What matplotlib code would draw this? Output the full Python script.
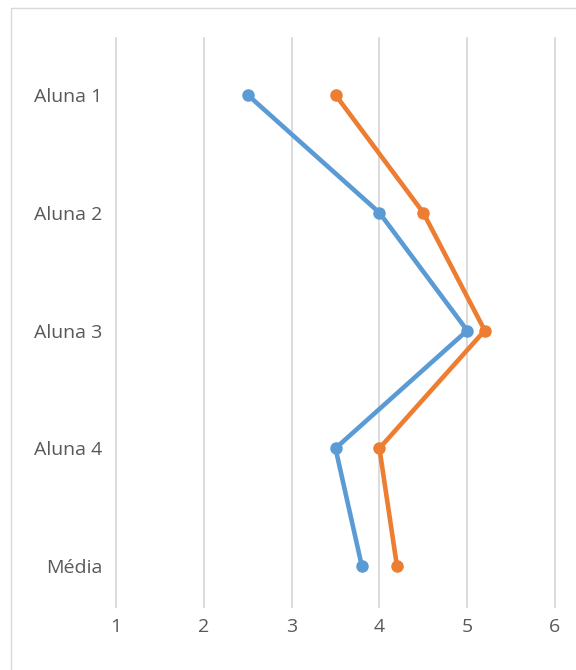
import matplotlib.pyplot as plt
from matplotlib.patches import Rectangle

categories = ['Aluna 1', 'Aluna 2', 'Aluna 3', 'Aluna 4', 'Média']
serie_azul = [2.5, 4.0, 5.0, 3.5, 3.8]
serie_laranja = [3.5, 4.5, 5.2, 4.0, 4.2]
x_ticks = [1, 2, 3, 4, 5, 6]

AZUL = '#5B9BD5'
LARANJA = '#ED7D31'
GRADE = '#D9D9D9'
TEXTO = '#595959'

plt.rcParams['font.family'] = ['Open Sans', 'DejaVu Sans']

fig = plt.figure(figsize=(5.76, 6.70), dpi=100)
W, H = 576, 670

# chart border (only top and left edges fall inside the image)
fig.patches.append(Rectangle((11 / W, -0.1), 1.2, (H - 8) / H + 0.1,
                             transform=fig.transFigure, fill=False,
                             edgecolor='#D9D9D9', linewidth=1.0))

ax = fig.add_axes([116 / W, (H - 607) / H, (555 - 116) / W, (607 - 38) / H])

pos = list(range(len(categories)))
ax.plot(serie_azul, pos, color=AZUL, linewidth=3.3, marker='o',
        markersize=8, solid_capstyle='round', zorder=3)
ax.plot(serie_laranja, pos, color=LARANJA, linewidth=3.3, marker='o',
        markersize=8, solid_capstyle='round', zorder=3)

ax.set_xlim(1, 6)
ax.set_ylim(4.347, -0.483)
ax.set_xticks(x_ticks)
ax.set_xticklabels([str(t) for t in x_ticks])
ax.set_yticks(pos)
ax.set_yticklabels(categories)
ax.tick_params(axis='both', length=0, labelsize=14, colors=TEXTO)
ax.tick_params(axis='x', pad=8)
ax.tick_params(axis='y', pad=10)
ax.grid(axis='x', color=GRADE, linewidth=1.3)
for gl in ax.get_xgridlines():
    gl.set_clip_on(False)
ax.set_axisbelow(True)
for s in ax.spines.values():
    s.set_visible(False)

fig.savefig('out.png', dpi=100)
